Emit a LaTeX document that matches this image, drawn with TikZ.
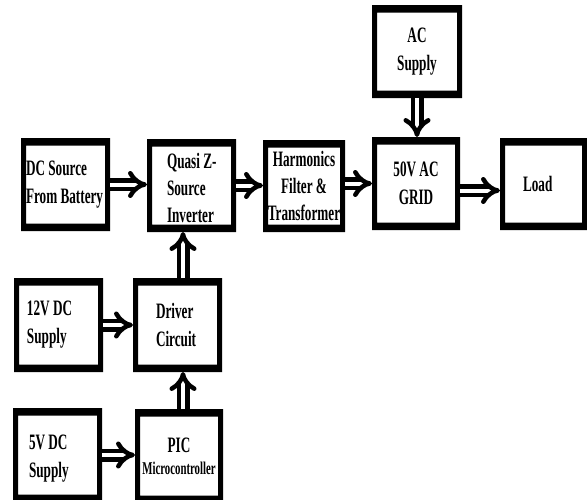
\documentclass[tikz,border=0pt]{standalone}
\usepackage{fontspec}
\newfontfamily\lab{Liberation Serif}[FakeStretch=0.6]
\usetikzlibrary{arrows.meta,calc}
\newcommand\Lw[2]{\makebox[#1][l]{#2}}
\newcommand\Dn[1]{\rule{0pt}{#1}}
\tikzset{
  blk/.style={rectangle, inner sep=0pt, outer sep=0pt, fill=white,
    font=\lab\bfseries\fontsize{22}{28}\selectfont},
  arr/.style={line width=4.5pt, double=white, double distance=4pt,
    -{Implies[scale=1.6]}},
}
\begin{document}
\begin{tikzpicture}[x=1pt,y=-1pt]
\useasboundingbox (0,0) rectangle (587,499);
\fill[white] (0,0) rectangle (587,499);
\clip (0,0) rectangle (587,499);
% boxes
\node[blk, minimum width=89pt, minimum height=93pt, align=left] (dc) at (65.5,184.5)
  {\Lw{79pt}{DC Source}\\\Lw{79pt}{From Battery}};
\node[blk, minimum width=89pt, minimum height=93pt, align=left, font=\lab\bfseries\fontsize{22}{27}\selectfont] (qz) at (191.5,185.5)
  {\Lw{49pt}{\Dn{21pt}Quasi Z-}\\\Lw{49pt}{Source}\\\Lw{49pt}{Inverter}};
\node[blk, minimum width=82pt, minimum height=92pt, align=center, font=\lab\bfseries\fontsize{22}{27}\selectfont] (hf) at (304,186)
  {Harmonics\\Filter \&\\Transformer};
\node[blk, minimum width=88pt, minimum height=93pt, align=center] (grid) at (416,183.5)
  {50V AC\\GRID};
\node[blk, minimum width=87pt, minimum height=92pt, align=left] (load) at (543.5,184)
  {\Lw{41pt}{Load}};
\node[blk, minimum width=90pt, minimum height=93pt, align=center] (ac) at (417,51.5)
  {AC\\Supply};
\node[blk, minimum width=89pt, minimum height=94pt, align=left] (v12) at (58.5,325)
  {\Lw{63pt}{12V DC}\\\Lw{63pt}{Supply}};
\node[blk, minimum width=89pt, minimum height=94pt, align=left] (drv) at (177.5,325)
  {\Lw{43pt}{Driver}\\\Lw{43pt}{Circuit}};
\node[blk, minimum width=89pt, minimum height=94pt, align=left] (v5) at (57.5,455)
  {\Lw{57pt}{\Dn{22pt}5V DC}\\\Lw{57pt}{Supply}};
\node[blk, minimum width=88pt, minimum height=94pt, align=center] (pic) at (179,456)
  {PIC\\[-6pt]{\fontsize{18}{20}\selectfont Microcontroller}};
% frames
\foreach \n in {dc,qz,hf,grid,load,ac,v12,drv,v5,pic}{
  \fill[black, even odd rule] (\n.north west) rectangle (\n.south east)
    ([shift={(5pt,-7.5pt)}]\n.north west) rectangle ([shift={(-5pt,7.5pt)}]\n.south east);
}
% connectors
\draw[arr] (dc.east) -- (dc.east -| qz.west);
\draw[arr] (qz.east) -- (qz.east -| hf.west);
\draw[arr] ($(hf.east)+(0,2.5pt)$) -- ($(hf.east -| grid.west)+(0,2.5pt)$);
\draw[arr] ($(grid.east)+(0,-7pt)$) -- ($(grid.east -| load.west)+(0,-7pt)$);
\draw[arr] (ac.south) -- (ac.south |- grid.north);
\draw[arr] ($(drv.north)+(5.5pt,0)$) -- ($(drv.north |- qz.south)+(5.5pt,0)$);
\draw[arr] (v12.east) -- (v12.east -| drv.west);
\draw[arr] ($(pic.north)+(4pt,0)$) -- ($(pic.north |- drv.south)+(4pt,0)$);
\draw[arr] (v5.east) -- (v5.east -| pic.west);
\end{tikzpicture}
\end{document}
